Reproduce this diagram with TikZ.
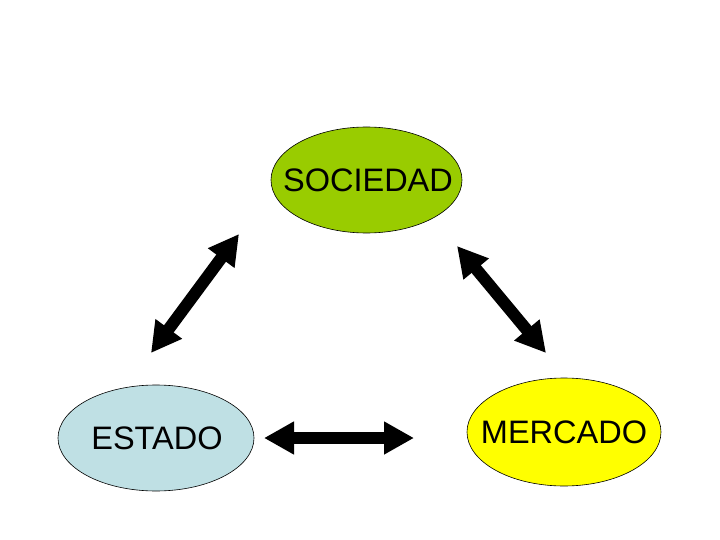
\documentclass[tikz,border=0pt]{standalone}
\usepackage{fontspec}
\setmainfont{Liberation Sans}
\usetikzlibrary{arrows.meta}
\definecolor{socgreen}{HTML}{99CC00}
\definecolor{estblue}{HTML}{BFE0E4}
\definecolor{meryellow}{HTML}{FFFF00}
\begin{document}
\begin{tikzpicture}[x=1pt,y=-1pt,
  oval/.style={draw=black,line width=0.6pt,inner sep=0pt},
  lbl/.style={font=\fontsize{32.5}{38}\selectfont},
  dbl/.style={line width=12pt,{Triangle[width=31pt,length=30pt]}-{Triangle[width=31pt,length=30pt]}}]
\useasboundingbox (0,0) rectangle (720,540);
\fill[white] (0,0) rectangle (720,540);
\draw[oval,fill=socgreen] (366.5,180) ellipse [x radius=95.5,y radius=53];
\node[lbl] (soc) at (368,180) {SOCIEDAD};
\draw[oval,fill=estblue] (156,438) ellipse [x radius=98,y radius=53];
\node[lbl] (est) at (157,438) {ESTADO};
\draw[oval,fill=meryellow] (564,432) ellipse [x radius=97,y radius=54];
\node[lbl] (mer) at (564,432) {MERCADO};
\coordinate (l1) at (151,353);
\coordinate (l2) at (239,234);
\coordinate (r1) at (457,246);
\coordinate (r2) at (546,353);
\coordinate (b1) at (264,438);
\coordinate (b2) at (414,438);
\draw[dbl] (l1) -- (l2);
\draw[dbl] (r1) -- (r2);
\draw[dbl] (b1) -- (b2);
\end{tikzpicture}
\end{document}
